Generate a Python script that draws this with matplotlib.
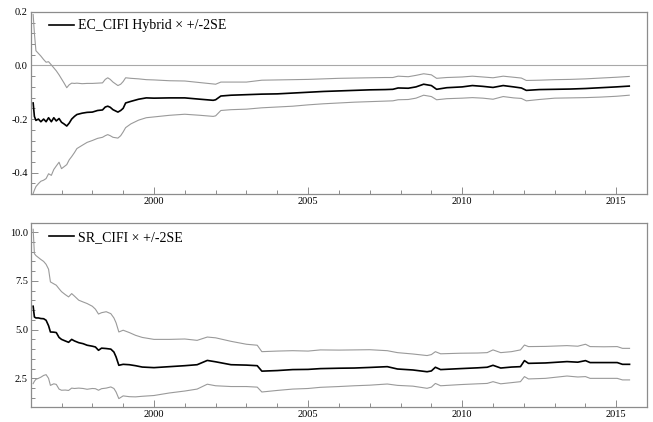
import matplotlib
matplotlib.use("Agg")
import matplotlib.pyplot as plt
from matplotlib.ticker import MultipleLocator, AutoMinorLocator, FormatStrFormatter

plt.rcParams['font.family'] = ['Liberation Serif', 'DejaVu Serif']
plt.rcParams['axes.unicode_minus'] = False

# ---- top panel: EC_CIFI Hybrid with +/-2SE bands ----
ec_dates = [1996.08, 1996.12, 1996.17, 1996.25, 1996.33, 1996.42, 1996.50, 1996.58, 1996.67, 1996.75,
            1996.83, 1996.92, 1997.00, 1997.08, 1997.17, 1997.25, 1997.33, 1997.42, 1997.50, 1997.67,
            1997.83, 1998.00, 1998.17, 1998.33, 1998.42, 1998.50, 1998.58, 1998.67, 1998.83, 1998.92,
            1999.00, 1999.08, 1999.25, 1999.50, 1999.75, 2000.00, 2000.50, 2001.00, 2001.50, 2001.92,
            2002.00, 2002.17, 2002.50, 2003.00, 2003.50, 2004.00, 2004.50, 2005.00, 2005.50, 2006.00,
            2006.50, 2007.00, 2007.50, 2007.75, 2007.92, 2008.25, 2008.50, 2008.75, 2009.00, 2009.17,
            2009.50, 2010.00, 2010.33, 2010.67, 2011.00, 2011.33, 2011.67, 2011.92, 2012.08, 2012.50,
            2013.00, 2013.50, 2014.00, 2014.50, 2015.00, 2015.42]
ec_mid = [-0.140, -0.190, -0.205, -0.200, -0.210, -0.200, -0.210, -0.195, -0.210, -0.195,
          -0.207, -0.198, -0.212, -0.218, -0.226, -0.215, -0.200, -0.190, -0.183, -0.178,
          -0.175, -0.174, -0.168, -0.166, -0.155, -0.152, -0.156, -0.165, -0.174, -0.168,
          -0.160, -0.140, -0.134, -0.126, -0.121, -0.122, -0.121, -0.121, -0.126, -0.130,
          -0.128, -0.114, -0.111, -0.109, -0.107, -0.106, -0.103, -0.100, -0.097, -0.095,
          -0.093, -0.091, -0.090, -0.089, -0.084, -0.085, -0.080, -0.070, -0.075, -0.089,
          -0.083, -0.080, -0.075, -0.078, -0.082, -0.075, -0.080, -0.084, -0.093, -0.090,
          -0.089, -0.088, -0.086, -0.083, -0.080, -0.077]
ec_upper = [0.190, 0.120, 0.055, 0.045, 0.035, 0.022, 0.012, 0.014, 0.002, -0.009,
            -0.020, -0.035, -0.050, -0.065, -0.083, -0.072, -0.066, -0.067, -0.066, -0.068,
            -0.067, -0.067, -0.066, -0.065, -0.052, -0.046, -0.052, -0.062, -0.075, -0.070,
            -0.060, -0.046, -0.048, -0.050, -0.053, -0.054, -0.057, -0.058, -0.064, -0.069,
            -0.070, -0.062, -0.062, -0.062, -0.055, -0.054, -0.053, -0.052, -0.050, -0.048,
            -0.047, -0.046, -0.045, -0.045, -0.040, -0.042, -0.037, -0.031, -0.035, -0.048,
            -0.045, -0.043, -0.040, -0.043, -0.046, -0.040, -0.044, -0.047, -0.056, -0.055,
            -0.053, -0.052, -0.050, -0.047, -0.044, -0.041]
ec_lower = [-0.478, -0.465, -0.452, -0.441, -0.432, -0.428, -0.422, -0.404, -0.410, -0.388,
            -0.375, -0.361, -0.385, -0.378, -0.370, -0.352, -0.340, -0.325, -0.310, -0.298,
            -0.287, -0.280, -0.272, -0.268, -0.262, -0.258, -0.262, -0.268, -0.271, -0.262,
            -0.248, -0.232, -0.218, -0.204, -0.195, -0.192, -0.186, -0.182, -0.186, -0.190,
            -0.188, -0.168, -0.165, -0.163, -0.158, -0.155, -0.152, -0.147, -0.143, -0.140,
            -0.137, -0.135, -0.133, -0.132, -0.128, -0.127, -0.122, -0.111, -0.116, -0.128,
            -0.124, -0.122, -0.120, -0.122, -0.126, -0.116, -0.121, -0.123, -0.132, -0.127,
            -0.122, -0.121, -0.120, -0.118, -0.115, -0.111]

# ---- bottom panel: SR_CIFI with +/-2SE bands ----
sr_dates = [1996.08, 1996.12, 1996.17, 1996.25, 1996.33, 1996.42, 1996.50, 1996.58, 1996.64, 1996.75,
            1996.83, 1996.92, 1997.00, 1997.12, 1997.23, 1997.33, 1997.42, 1997.56, 1997.70, 1997.83,
            1998.00, 1998.10, 1998.20, 1998.30, 1998.45, 1998.60, 1998.70, 1998.77, 1998.86, 1999.00,
            1999.20, 1999.40, 1999.62, 2000.00, 2000.50, 2001.00, 2001.40, 2001.73, 2002.00, 2002.50,
            2003.00, 2003.35, 2003.50, 2004.00, 2004.50, 2005.00, 2005.40, 2006.00, 2006.50, 2007.00,
            2007.57, 2007.90, 2008.40, 2008.86, 2009.00, 2009.13, 2009.30, 2009.94, 2010.50, 2010.81,
            2011.00, 2011.25, 2011.60, 2011.89, 2012.02, 2012.15, 2012.70, 2013.40, 2013.75, 2014.00,
            2014.15, 2014.60, 2015.03, 2015.20, 2015.43]
sr_mid = [6.20, 5.65, 5.60, 5.60, 5.57, 5.56, 5.48, 5.20, 4.88, 4.87,
          4.85, 4.60, 4.50, 4.42, 4.35, 4.50, 4.42, 4.33, 4.28, 4.20,
          4.15, 4.11, 3.94, 4.05, 4.03, 4.00, 3.85, 3.60, 3.17, 3.22,
          3.20, 3.15, 3.08, 3.05, 3.10, 3.15, 3.20, 3.42, 3.35, 3.20,
          3.18, 3.15, 2.87, 2.90, 2.95, 2.96, 3.00, 3.02, 3.03, 3.06,
          3.10, 2.98, 2.93, 2.84, 2.88, 3.07, 2.95, 3.00, 3.04, 3.07,
          3.17, 3.03, 3.08, 3.10, 3.41, 3.27, 3.29, 3.36, 3.33, 3.41,
          3.31, 3.31, 3.31, 3.22, 3.22]
sr_upper = [10.15, 8.90, 8.80, 8.70, 8.60, 8.50, 8.35, 8.10, 7.45, 7.35,
            7.28, 7.10, 6.95, 6.80, 6.68, 6.85, 6.72, 6.51, 6.42, 6.34,
            6.20, 6.05, 5.80, 5.87, 5.92, 5.82, 5.60, 5.35, 4.88, 4.97,
            4.85, 4.71, 4.60, 4.50, 4.50, 4.52, 4.45, 4.62, 4.58, 4.40,
            4.25, 4.20, 3.87, 3.90, 3.92, 3.90, 3.96, 3.95, 3.96, 3.97,
            3.92, 3.82, 3.75, 3.67, 3.72, 3.87, 3.76, 3.79, 3.80, 3.82,
            3.96, 3.82, 3.87, 3.96, 4.21, 4.13, 4.14, 4.18, 4.15, 4.25,
            4.13, 4.12, 4.13, 4.04, 4.04]
sr_lower = [2.23, 2.35, 2.45, 2.50, 2.56, 2.65, 2.69, 2.50, 2.14, 2.22,
            2.19, 1.95, 1.89, 1.90, 1.88, 2.00, 1.98, 2.00, 1.98, 1.94,
            1.98, 1.97, 1.89, 1.97, 2.00, 2.06, 1.98, 1.80, 1.46, 1.60,
            1.56, 1.55, 1.58, 1.62, 1.75, 1.85, 1.95, 2.20, 2.12, 2.08,
            2.08, 2.05, 1.80, 1.88, 1.95, 1.98, 2.04, 2.08, 2.12, 2.15,
            2.21, 2.14, 2.10, 1.99, 2.05, 2.24, 2.12, 2.18, 2.22, 2.24,
            2.33, 2.22, 2.28, 2.33, 2.59, 2.47, 2.50, 2.62, 2.57, 2.59,
            2.50, 2.50, 2.50, 2.42, 2.42]

frame_col = '#8c8c8c'
band_col = '#9a9a9a'

fig = plt.figure(figsize=(6.53, 4.22), dpi=100)
ax1 = fig.add_axes([0.047, 0.540, 0.944, 0.432])
ax2 = fig.add_axes([0.047, 0.036, 0.944, 0.435])


def style_axes(ax, ymajor, yfmt):
    for s in ax.spines.values():
        s.set_color(frame_col)
        s.set_linewidth(0.9)
    ax.set_xlim(1996.0, 2016.0)
    ax.xaxis.set_major_locator(MultipleLocator(5))
    ax.xaxis.set_minor_locator(MultipleLocator(1))
    ax.xaxis.set_major_formatter(FormatStrFormatter('%d'))
    ax.yaxis.set_major_locator(MultipleLocator(ymajor))
    ax.yaxis.set_minor_locator(AutoMinorLocator(5))
    ax.yaxis.set_major_formatter(FormatStrFormatter(yfmt))
    ax.tick_params(which='both', direction='in', color=frame_col, width=0.7,
                   top=False, right=False, labelsize=7.5, pad=2)
    ax.tick_params(which='major', length=5)
    ax.tick_params(which='minor', length=3)


def add_legend(ax):
    ax.legend(loc='upper left', frameon=False, fontsize=10, handlelength=1.8,
              handletextpad=0.25, borderaxespad=0.15, bbox_to_anchor=(0.018, 1.0))


# top panel
ax1.axhline(0.0, color='#a8a8a8', lw=0.8)
ax1.plot(ec_dates, ec_upper, color=band_col, lw=0.8)
ax1.plot(ec_dates, ec_lower, color=band_col, lw=0.8)
ax1.plot(ec_dates, ec_mid, color='black', lw=1.2, label='EC_CIFI Hybrid \u00d7 +/-2SE')
ax1.set_ylim(-0.48, 0.2001)
style_axes(ax1, 0.2, '%.1f')
add_legend(ax1)

# bottom panel
ax2.plot(sr_dates, sr_upper, color=band_col, lw=0.8)
ax2.plot(sr_dates, sr_lower, color=band_col, lw=0.8)
ax2.plot(sr_dates, sr_mid, color='black', lw=1.2, label='SR_CIFI \u00d7 +/-2SE')
ax2.set_ylim(1.04, 10.46)
style_axes(ax2, 2.5, '%.1f')
add_legend(ax2)

fig.savefig('out.png', dpi=100)
